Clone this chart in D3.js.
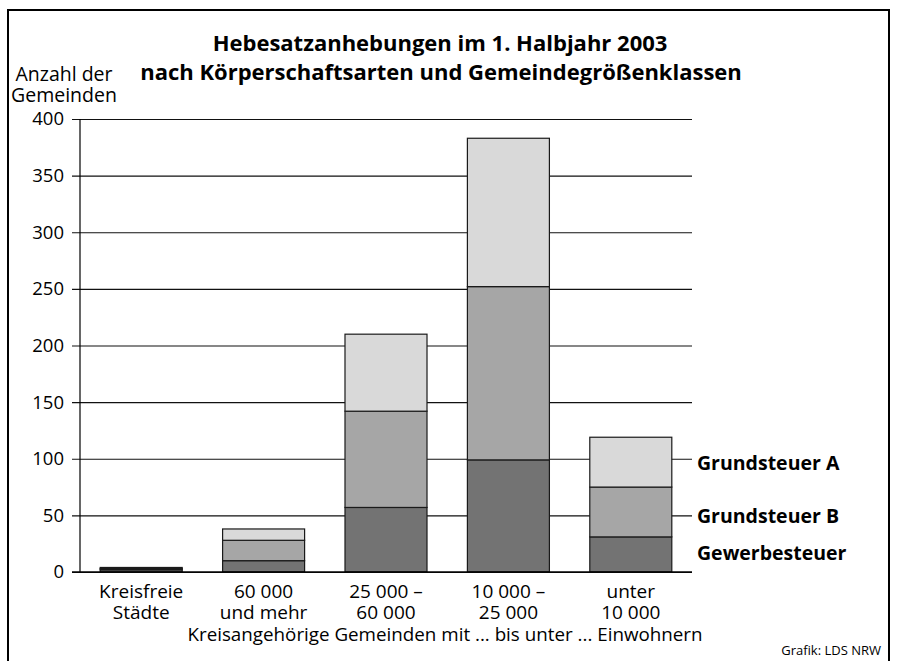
<!DOCTYPE html>
<html>
<head>
<meta charset="utf-8">
<script src="https://cdn.jsdelivr.net/npm/d3@7"></script>
<style>
body { margin: 0; background: #fff; }
text { font-family: "Open Sans", sans-serif; fill: #000; }
</style>
</head>
<body>
<script>
(function(){

//data
var categories = ["Kreisfreie Städte", "60 000 und mehr", "25 000 – 60 000", "10 000 – 25 000", "unter 10 000"];
var catLines = [["Kreisfreie", "Städte"], ["60 000", "und mehr"], ["25 000 –", "60 000"], ["10 000 –", "25 000"], ["unter", "10 000"]];
var gewerbesteuer = [2, 10, 57, 99, 31];
var grundsteuerB = [1, 18, 85, 153, 44];
var grundsteuerA = [1, 10, 68, 131, 44];
var seriesNames = ["Gewerbesteuer", "Grundsteuer B", "Grundsteuer A"];
var seriesColors = ["#737373", "#a6a6a6", "#d9d9d9"];
var yTicks = [0, 50, 100, 150, 200, 250, 300, 350, 400];

var width = 897,
    height = 661,
    plotLeft = 80,
    plotRight = 692,
    plotTop = 119,
    plotBottom = 572;

var svg = d3.select("body")
    .append("svg")
    .attr("width", width)
    .attr("height", height);

//frame around the whole graphic
svg.append("rect")
    .attr("x", 8)
    .attr("y", 10)
    .attr("width", 881)
    .attr("height", 670)
    .attr("fill", "none")
    .attr("stroke", "#000")
    .attr("stroke-width", 2);

//scales
var xScale = d3.scaleBand()
    .domain(categories)
    .range([plotLeft, plotRight])
    .paddingInner(0.33)
    .paddingOuter(0.165);

var yScale = d3.scaleLinear()
    .domain([0, 400])
    .range([plotBottom, plotTop]);

//build table for the stack
var table = categories.map(function(c, i){
    return {
        cat: c,
        "Gewerbesteuer": gewerbesteuer[i],
        "Grundsteuer B": grundsteuerB[i],
        "Grundsteuer A": grundsteuerA[i]
    };
});

var stack = d3.stack().keys(seriesNames)(table);

//gridlines and left ticks
var yAxis = d3.axisLeft(yScale)
    .tickValues(yTicks)
    .tickSize(-(plotRight - plotLeft))
    .tickPadding(16)
    .tickSizeOuter(0);

var axis = svg.append("g")
    .attr("transform", "translate(" + plotLeft + ",0)")
    .call(yAxis);

axis.select(".domain").remove();
axis.selectAll(".tick line")
    .attr("x1", -8)
    .attr("stroke", "#111")
    .attr("stroke-width", 1.2);
axis.selectAll(".tick text")
    .attr("font-size", 18.5)
    .attr("font-family", "Open Sans, sans-serif");

//vertical axis line
svg.append("line")
    .attr("x1", plotLeft).attr("x2", plotLeft)
    .attr("y1", yScale(400)).attr("y2", yScale(0))
    .attr("stroke", "#000")
    .attr("stroke-width", 1.2);

//stacked bars
var layers = svg.selectAll(".layer")
    .data(stack)
    .enter()
    .append("g")
    .attr("class", "layer")
    .attr("fill", function(d, i){ return seriesColors[i]; });

layers.selectAll("rect")
    .data(function(d){ return d; })
    .enter()
    .append("rect")
    .attr("x", function(d){ return xScale(d.data.cat); })
    .attr("width", xScale.bandwidth())
    .attr("y", function(d){ return yScale(d[1]); })
    .attr("height", function(d){ return yScale(d[0]) - yScale(d[1]); })
    .attr("stroke", "#1a1a1a")
    .attr("stroke-width", 1.2);

//baseline on top
svg.append("line")
    .attr("x1", plotLeft - 8).attr("x2", plotRight)
    .attr("y1", yScale(0)).attr("y2", yScale(0))
    .attr("stroke", "#000")
    .attr("stroke-width", 1.5);

//category labels
var catLabels = svg.selectAll(".catLabel")
    .data(catLines)
    .enter()
    .append("text")
    .attr("class", "catLabel")
    .attr("text-anchor", "middle")
    .attr("font-size", 19)
    .attr("x", function(d, i){ return xScale(categories[i]) + xScale.bandwidth() / 2; })
    .attr("y", 598);

catLabels.selectAll("tspan")
    .data(function(d){ return d; })
    .enter()
    .append("tspan")
    .attr("x", function(){ return d3.select(this.parentNode).attr("x"); })
    .attr("dy", function(d, i){ return i === 0 ? 0 : 20.5; })
    .text(function(d){ return d; });

svg.append("text")
    .attr("x", 445)
    .attr("y", 641)
    .attr("text-anchor", "middle")
    .attr("font-size", 18.8)
    .text("Kreisangehörige Gemeinden mit ... bis unter ... Einwohnern");

//legend labels next to the last bar
var legendY = [560, 523, 470];
svg.selectAll(".legendLabel")
    .data(seriesNames)
    .enter()
    .append("text")
    .attr("class", "legendLabel")
    .attr("x", 697)
    .attr("y", function(d, i){ return legendY[i]; })
    .attr("font-size", 19.5)
    .attr("font-weight", "bold")
    .text(function(d){ return d; });

//titles
svg.append("text")
    .attr("x", 440)
    .attr("y", 51)
    .attr("text-anchor", "middle")
    .attr("font-size", 22)
    .attr("font-weight", "bold")
    .text("Hebesatzanhebungen im 1. Halbjahr 2003");

svg.append("text")
    .attr("x", 441)
    .attr("y", 80)
    .attr("text-anchor", "middle")
    .attr("font-size", 22)
    .attr("font-weight", "bold")
    .text("nach Körperschaftsarten und Gemeindegrößenklassen");

//y axis title
svg.append("text")
    .attr("x", 64)
    .attr("y", 81)
    .attr("text-anchor", "middle")
    .attr("font-size", 19.5)
    .text("Anzahl der");

svg.append("text")
    .attr("x", 64)
    .attr("y", 102)
    .attr("text-anchor", "middle")
    .attr("font-size", 19.5)
    .text("Gemeinden");

//source
svg.append("text")
    .attr("x", 881)
    .attr("y", 655)
    .attr("text-anchor", "end")
    .attr("font-size", 13)
    .text("Grafik: LDS NRW");

})();
</script>
</body>
</html>
